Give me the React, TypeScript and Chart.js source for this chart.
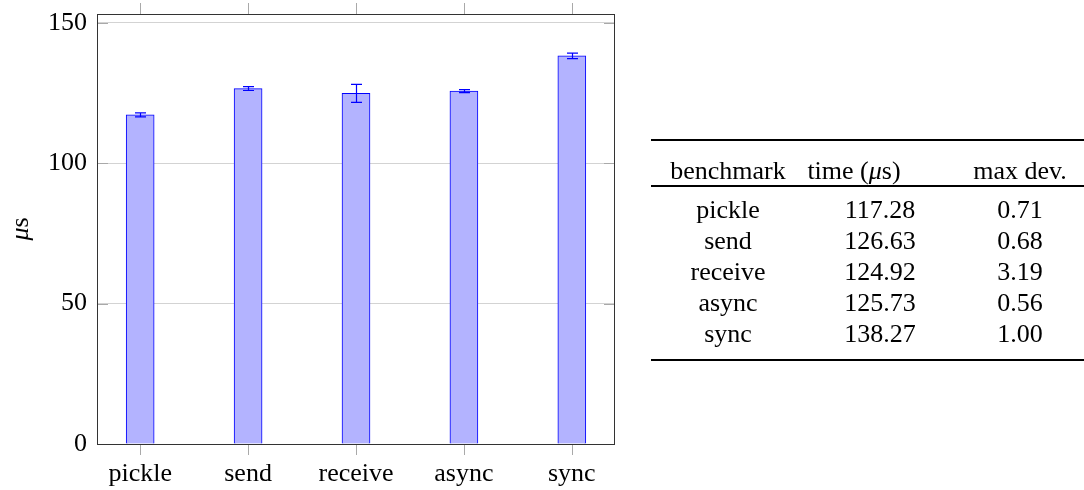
import React, { useEffect, useRef } from 'react';
import { Chart, registerables } from 'chart.js';

Chart.register(...registerables);

// Benchmark results: mean time per call and maximum deviation, in microseconds
const categories = ['pickle', 'send', 'receive', 'async', 'sync'];
const timesUs = [117.28, 126.63, 124.92, 125.73, 138.27];
const maxDevUs = [0.71, 0.68, 3.19, 0.56, 1.0];
const yTickValues = [0, 50, 100, 150];
const tableHeader = ['benchmark', 'time', 'max dev.'];

const SERIF = '"Liberation Serif", "Times New Roman", serif';
const BAR_FILL = '#b3b3ff';
const BAR_EDGE = '#0000ff';
const TICK_GRAY = '#a9a9a9';
const GRID_GRAY = '#d3d3d3';

const framePlugin = {
  id: 'frame',
  beforeDatasetsDraw(chart: any) {
    const { ctx, chartArea: a, scales } = chart;
    const x = scales.x;
    const y = scales.y;
    ctx.save();
    ctx.strokeStyle = TICK_GRAY;
    ctx.lineWidth = 1;
    ctx.beginPath();
    // inner y tick marks on both sides
    yTickValues.forEach((t) => {
      const py = Math.round(y.getPixelForValue(t)) + 0.5;
      ctx.moveTo(a.left, py);
      ctx.lineTo(a.left + 11, py);
      ctx.moveTo(a.right - 11, py);
      ctx.lineTo(a.right, py);
    });
    // outer x tick marks, top and bottom
    categories.forEach((_, i) => {
      const px = Math.round(x.getPixelForValue(i)) + 0.5;
      ctx.moveTo(px, a.top - 11);
      ctx.lineTo(px, a.top);
      ctx.moveTo(px, a.bottom);
      ctx.lineTo(px, a.bottom + 11);
    });
    ctx.stroke();
    ctx.restore();
  },
  afterDatasetsDraw(chart: any) {
    const { ctx, chartArea: a, scales } = chart;
    const x = scales.x;
    const y = scales.y;
    ctx.save();
    // error bars
    ctx.strokeStyle = BAR_EDGE;
    ctx.lineWidth = 1.2;
    ctx.beginPath();
    timesUs.forEach((v, i) => {
      const px = Math.round(x.getPixelForValue(i)) + 0.5;
      const top = y.getPixelForValue(v + maxDevUs[i]);
      const bot = y.getPixelForValue(v - maxDevUs[i]);
      ctx.moveTo(px, top);
      ctx.lineTo(px, bot);
      ctx.moveTo(px - 5.5, top);
      ctx.lineTo(px + 5.5, top);
      ctx.moveTo(px - 5.5, bot);
      ctx.lineTo(px + 5.5, bot);
    });
    ctx.stroke();
    // axis frame
    ctx.strokeStyle = '#333333';
    ctx.lineWidth = 1;
    ctx.strokeRect(a.left + 0.5, a.top + 0.5, a.right - a.left - 1, a.bottom - a.top);
    ctx.restore();
  },
  afterDraw(chart: any) {
    const { ctx, chartArea: a } = chart;
    ctx.save();
    ctx.translate(21, (a.top + a.bottom) / 2);
    ctx.rotate(-Math.PI / 2);
    ctx.fillStyle = '#000';
    ctx.textBaseline = 'middle';
    ctx.textAlign = 'left';
    const muFont = `italic 26px ${SERIF}`;
    const sFont = `26px ${SERIF}`;
    ctx.font = muFont;
    const wMu = ctx.measureText('μ').width;
    ctx.font = sFont;
    const wS = ctx.measureText('s').width;
    const start = -(wMu + wS) / 2;
    ctx.font = muFont;
    ctx.fillText('μ', start, 0);
    ctx.font = sFont;
    ctx.fillText('s', start + wMu, 0);
    ctx.restore();
  },
};

function BenchChart() {
  const ref = useRef<HTMLCanvasElement | null>(null);
  useEffect(() => {
    if (!ref.current) return;
    const chart = new Chart(ref.current, {
      type: 'bar',
      data: {
        datasets: [
          {
            data: timesUs.map((v, i) => ({ x: i, y: v })),
            backgroundColor: BAR_FILL,
            borderColor: BAR_EDGE,
            borderWidth: 1,
            barThickness: 28,
          },
        ],
      },
      options: {
        animation: false,
        responsive: true,
        maintainAspectRatio: false,
        layout: { padding: { top: 14, right: 25, left: 0, bottom: 0 } },
        plugins: { legend: { display: false }, tooltip: { enabled: false } },
        scales: {
          x: {
            type: 'linear',
            min: -0.4,
            max: 4.4,
            offset: false,
            afterBuildTicks: (s: any) => {
              s.ticks = categories.map((_, i) => ({ value: i }));
            },
            afterFit: (s: any) => {
              s.height = 46;
              s.paddingLeft = 0;
              s.paddingRight = 0;
            },
            ticks: {
              callback: (v: any) => categories[Math.round(Number(v))] ?? '',
              font: { family: SERIF, size: 26 },
              color: '#000',
              padding: 7,
              maxRotation: 0,
              autoSkip: false,
            },
            grid: { display: false },
            border: { display: false },
          },
          y: {
            type: 'linear',
            min: 0,
            max: 153.2,
            afterBuildTicks: (s: any) => {
              s.ticks = yTickValues.map((value) => ({ value }));
            },
            afterFit: (s: any) => {
              s.width = 97;
              s.paddingTop = 0;
              s.paddingBottom = 0;
            },
            ticks: {
              font: { family: SERIF, size: 26 },
              color: '#000',
              padding: 10,
            },
            grid: { color: GRID_GRAY, drawTicks: false, lineWidth: 1 },
            border: { display: false },
          },
        },
      },
      plugins: [framePlugin],
    } as any);
    return () => chart.destroy();
  }, []);
  return (
    <div style={{ position: 'absolute', left: 0, top: 0, width: 640, height: 490 }}>
      <canvas ref={ref} />
    </div>
  );
}

const cellStyle = (cx: number, top: number): React.CSSProperties => ({
  position: 'absolute',
  left: cx,
  top,
  transform: 'translateX(-50%)',
  whiteSpace: 'nowrap',
  lineHeight: '30px',
  fontSize: 26,
});

function ResultsTable() {
  const rowTops = categories.map((_, i) => 195 + i * 31);
  return (
    <div style={{ position: 'absolute', left: 0, top: 0, width: 1084, height: 490, fontFamily: SERIF, color: '#000' }}>
      <div style={{ position: 'absolute', left: 651, top: 139, width: 433, height: 2, background: '#000' }} />
      <div style={cellStyle(728, 156)}>{tableHeader[0]}</div>
      <div style={cellStyle(854, 156)}>
        {tableHeader[1]} (<i>μ</i>s)
      </div>
      <div style={cellStyle(1020, 156)}>{tableHeader[2]}</div>
      <div style={{ position: 'absolute', left: 651, top: 185, width: 433, height: 1.5, background: '#000' }} />
      {categories.map((c, i) => (
        <React.Fragment key={c}>
          <div style={cellStyle(728, rowTops[i])}>{c}</div>
          <div style={cellStyle(880, rowTops[i])}>{timesUs[i].toFixed(2)}</div>
          <div style={cellStyle(1020, rowTops[i])}>{maxDevUs[i].toFixed(2)}</div>
        </React.Fragment>
      ))}
      <div style={{ position: 'absolute', left: 651, top: 358.5, width: 433, height: 2, background: '#000' }} />
    </div>
  );
}

export default function App() {
  return (
    <div style={{ position: 'absolute', left: 0, top: 0, width: 1084, height: 490, background: '#fff' }}>
      <BenchChart />
      <ResultsTable />
    </div>
  );
}
